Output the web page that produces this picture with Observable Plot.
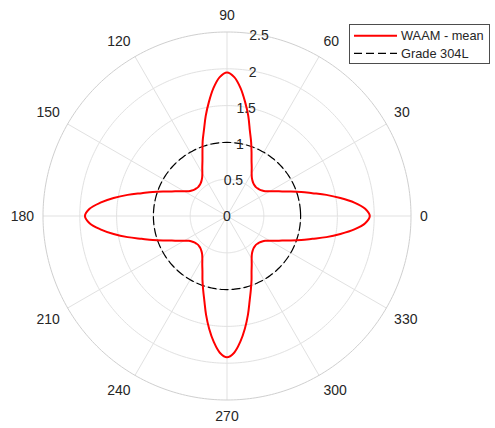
<!DOCTYPE html>
<html><head><meta charset="utf-8">
<script src="https://cdn.jsdelivr.net/npm/d3@7"></script>
<script src="https://cdn.jsdelivr.net/npm/@observablehq/plot@0.6"></script>
<style>
html,body{margin:0;padding:0;background:#fff;}
#chart{position:relative;width:495px;height:428px;font-family:"Liberation Sans",Arial,sans-serif;}
#legend{position:absolute;left:349px;top:24px;}
</style></head><body><div id="chart"></div>
<script>
// ---- data ----
const thetaDeg = [0,3,6,9,12,15,18,21,24,27,30,33,36,39,42,45,48,51,54,57,60,63,66,69,72,75,78,81,84,87,
  90,93,96,99,102,105,108,111,114,117,120,123,126,129,132,135,138,141,144,147,150,153,156,159,162,165,168,171,174,177,
  180,183,186,189,192,195,198,201,204,207,210,213,216,219,222,225,228,231,234,237,240,243,246,249,252,255,258,261,264,267,
  270,273,276,279,282,285,288,291,294,297,300,303,306,309,312,315,318,321,324,327,330,333,336,339,342,345,348,351,354,357];
const waamMean = [
  1.94,1.88,1.74,1.56,1.38,1.20,1.06,0.93,0.82,0.74,0.67,0.62,0.59,0.57,0.56,0.555,
  0.56,0.57,0.59,0.62,0.67,0.74,0.82,0.93,1.06,1.20,1.39,1.57,1.75,1.89,
  1.95,1.89,1.75,1.57,1.39,1.21,1.07,0.93,0.82,0.74,0.67,0.62,0.59,0.57,0.56,0.555,
  0.56,0.57,0.59,0.62,0.67,0.74,0.82,0.93,1.06,1.20,1.38,1.56,1.73,1.87,
  1.93,1.87,1.73,1.56,1.38,1.20,1.06,0.93,0.82,0.74,0.67,0.62,0.59,0.57,0.56,0.555,
  0.56,0.57,0.59,0.62,0.67,0.74,0.82,0.93,1.05,1.19,1.37,1.55,1.72,1.86,
  1.92,1.86,1.72,1.55,1.37,1.19,1.05,0.93,0.82,0.74,0.67,0.62,0.59,0.57,0.56,0.555,
  0.56,0.57,0.59,0.62,0.67,0.74,0.82,0.93,1.06,1.20,1.38,1.56,1.74,1.88];
const grade304L = 1;
const rTicks = [0, 0.5, 1, 1.5, 2, 2.5];
const rTickLabels = ["0", "0.5", "1", "1.5", "2", "2.5"];
const thetaTicks = [0, 30, 60, 90, 120, 150, 180, 210, 240, 270, 300, 330];
const thetaTickLabels = ["0", "30", "60", "90", "120", "150", "180", "210", "240", "270", "300", "330"];
const seriesNames = ["WAAM - mean", "Grade 304L"];
const seriesColors = ["#ff0000", "#000000"];

// ---- helpers ----
const rad = d => d * Math.PI / 180;
const rMax = 2.5;
const rAxisAngle = 80;
const labelR = 2.622;
const px = d => d.r * Math.cos(rad(d.theta));
const py = d => d.r * Math.sin(rad(d.theta));

const waam = thetaDeg.map((t, i) => ({theta: t, r: waamMean[i]}));
const grade = thetaDeg.map(t => ({theta: t, r: grade304L}));
const fine = d3.range(0, 360, 1);
const innerCircles = rTicks.filter(r => r > 0 && r < rMax).flatMap(r => fine.map(t => ({r, theta: t})));
const outerCircle = fine.map(t => ({r: rMax, theta: t}));

const textFont = {fontSize: 14, fill: "#262626", fontFamily: "Liberation Sans, Arial, sans-serif"};

const thetaLabelMarks = thetaTicks.map((t, i) => {
  const c = Math.cos(rad(t)), s = Math.sin(rad(t));
  const ta = c > 0.1 ? "start" : c < -0.1 ? "end" : "middle";
  const la = s > 0.1 ? "bottom" : s < -0.1 ? "top" : "middle";
  const dy = la === "bottom" ? -3 : la === "top" ? 2 : 1;
  return Plot.text([i], {
    x: j => labelR * Math.cos(rad(thetaTicks[j])),
    y: j => labelR * Math.sin(rad(thetaTicks[j])),
    text: j => thetaTickLabels[j],
    textAnchor: ta, lineAnchor: la, dy, ...textFont
  });
});

const chart = Plot.plot({
  width: 495, height: 428,
  marginLeft: 42.5, marginRight: 84.5, marginTop: 31.5, marginBottom: 28.5,
  x: {domain: [-rMax, rMax], axis: null},
  y: {domain: [-rMax, rMax], axis: null},
  style: {background: "#fff"},
  marks: [
    Plot.line(innerCircles, {x: px, y: py, z: "r", curve: "linear-closed", stroke: "#e1e1e1", strokeWidth: 1}),
    Plot.link(thetaTicks, {
      x1: () => 0, y1: () => 0,
      x2: t => rMax * Math.cos(rad(t)), y2: t => rMax * Math.sin(rad(t)),
      stroke: "#e1e1e1", strokeWidth: 1
    }),
    Plot.line(outerCircle, {x: px, y: py, curve: "linear-closed", stroke: "#cfcfcf", strokeWidth: 1}),
    Plot.line(grade, {x: px, y: py, curve: "catmull-rom-closed", stroke: seriesColors[1], strokeWidth: 1.2, strokeDasharray: "8,4"}),
    Plot.line(waam, {x: px, y: py, curve: "catmull-rom-closed", stroke: seriesColors[0], strokeWidth: 2}),
    ...thetaLabelMarks,
    Plot.text(rTicks, {
      x: r => r * Math.cos(rad(rAxisAngle)),
      y: r => r * Math.sin(rad(rAxisAngle)),
      text: (r, i) => rTickLabels[i],
      textAnchor: "middle", lineAnchor: "middle", dy: 1, ...textFont
    })
  ]
});
document.getElementById("chart").appendChild(chart);

// ---- legend ----
const leg = d3.create("svg").attr("id", "legend").attr("width", 141).attr("height", 40)
  .style("font-family", "Liberation Sans, Arial, sans-serif");
leg.append("rect").attr("x", 0.5).attr("y", 0.5).attr("width", 140).attr("height", 39)
  .attr("fill", "#fff").attr("stroke", "#4d4d4d").attr("stroke-width", 1);
const rowsY = [11.7, 29.3];
seriesNames.forEach((name, i) => {
  leg.append("line").attr("x1", 5).attr("x2", 48).attr("y1", rowsY[i]).attr("y2", rowsY[i])
    .attr("stroke", seriesColors[i]).attr("stroke-width", i === 0 ? 2 : 1.2)
    .attr("stroke-dasharray", i === 0 ? null : "8,4");
  leg.append("text").attr("x", 52).attr("y", rowsY[i] + 4.6).attr("font-size", 12.8)
    .attr("fill", "#262626").text(name);
});
document.getElementById("chart").appendChild(leg.node());
</script>
</body></html>
